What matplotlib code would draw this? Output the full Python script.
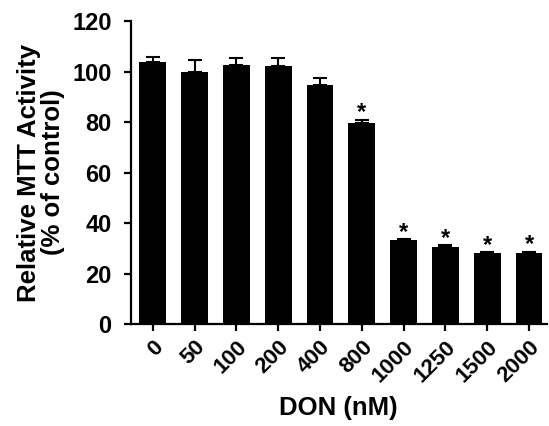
import numpy as np
from matplotlib import pyplot as plt

plt.rcParams['font.family'] = ['Liberation Sans', 'DejaVu Sans']
plt.rcParams['font.weight'] = 'bold'

doses = ['0', '50', '100', '200', '400', '800', '1000', '1250', '1500', '2000']
activity = [103.6, 99.9, 102.6, 102.3, 94.8, 79.6, 33.1, 30.6, 28.0, 28.3]
sem = [2.2, 4.6, 2.7, 3.0, 2.6, 1.3, 0.4, 0.5, 0.4, 0.3]
signif = [False, False, False, False, False, True, True, True, True, True]

fig = plt.figure(figsize=(5.49, 4.26), dpi=100)
ax = fig.add_axes([0.2386, 0.2394, 0.757, 0.7113])

x = np.arange(len(doses))
ax.bar(x, activity, width=0.64, color='black', zorder=2)
ax.errorbar(x, activity, yerr=[np.zeros(len(sem)), sem], fmt='none',
            ecolor='black', elinewidth=1.5, capsize=5, capthick=1.5, zorder=3)

# significance stars
for xi, v, e, s in zip(x, activity, sem, signif):
    if s:
        ax.text(xi, v + e - 1.8, '*', ha='center', va='bottom',
                fontsize=17, fontweight='bold')

ax.set_xlim(-0.52, 9.42)
ax.set_ylim(0, 120)
ax.set_yticks(np.arange(0, 121, 20))
ax.set_xticks(x)
ax.set_xticklabels(doses, rotation=45, ha='right', rotation_mode='anchor')

for side in ['top', 'right']:
    ax.spines[side].set_visible(False)
for side in ['left', 'bottom']:
    ax.spines[side].set_linewidth(1.6)

ax.tick_params(axis='both', width=1.6, length=5, labelsize=16)
ax.tick_params(axis='y', labelsize=17, pad=9)
ax.tick_params(axis='x', pad=4)

fig.text(0.075, 0.595, 'Relative MTT Activity\n(% of control)', rotation=90,
         ha='center', va='center', fontsize=18.5, fontweight='bold',
         multialignment='center', linespacing=1.0)
fig.text(0.617, 0.042, 'DON (nM)', ha='center', va='center',
         fontsize=18.5, fontweight='bold')

plt.savefig('out.png', dpi=100)
